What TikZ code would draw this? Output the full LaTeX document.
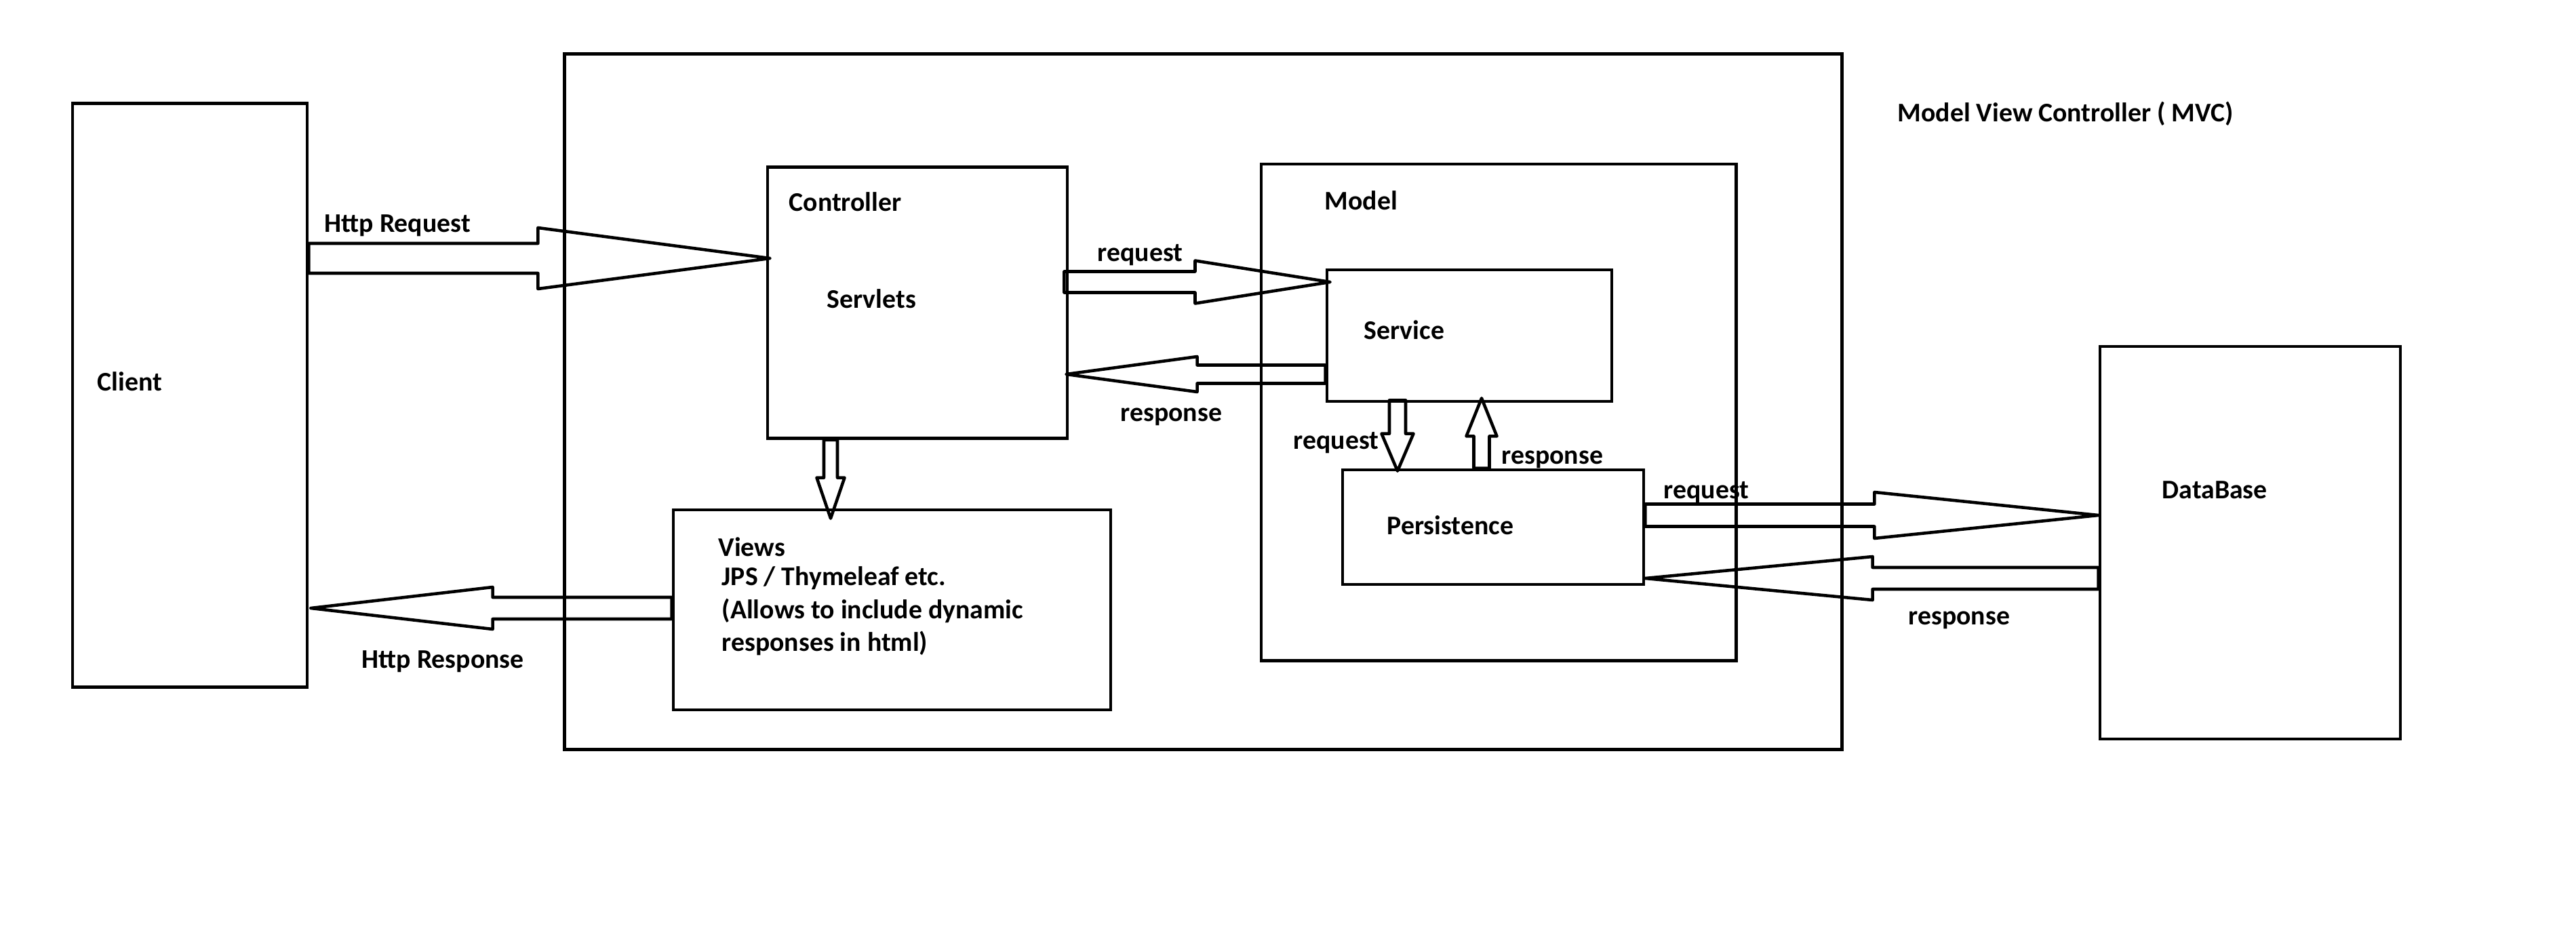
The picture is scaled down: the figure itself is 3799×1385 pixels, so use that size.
\documentclass[tikz,border=0pt]{standalone}
\usepackage{fontspec}
\setmainfont{Carlito}
\usetikzlibrary{calc}

% hollow block arrow: start, tip, shaft half-width, head half-width, head length
\newcommand\blockarrow[5]{%
  \coordinate (ba-base) at ($(#2)!#5!(#1)$);
  \draw[blk] ($(#1)!#3!90:(#2)$) -- ($(ba-base)!#3!90:(#2)$) -- ($(ba-base)!#4!90:(#2)$)
    -- (#2) -- ($(ba-base)!#4!-90:(#2)$) -- ($(ba-base)!#3!-90:(#2)$)
    -- ($(#1)!#3!-90:(#2)$) -- cycle;
}

\begin{document}
\begin{tikzpicture}[x=0.01cm, y=-0.01cm,
  box/.style={draw, rectangle, inner sep=0pt, line width=1.3pt},
  blk/.style={draw, line width=1.3pt, line join=round},
  lbl/.style={inner sep=0pt, anchor=base west, font=\bfseries\fontsize{11.3}{13.6}\selectfont}]

\path[use as bounding box, fill=white] (0,0) rectangle (3799,1385);

% boxes
\node[box, minimum width=3.46cm, minimum height=8.60cm] (client) at (280,583) {};
\node[box, minimum width=18.83cm, minimum height=10.25cm] (mvc) at (1774.5,592.5) {};
\node[box, minimum width=4.42cm, minimum height=4.00cm] (ctrl) at (1353,446.5) {};
\node[box, minimum width=6.45cm, minimum height=2.95cm] (views) at (1315.5,899.5) {};
\node[box, minimum width=7.00cm, minimum height=7.32cm] (model) at (2210,608) {};
\node[box, minimum width=4.20cm, minimum height=1.94cm] (service) at (2167,495) {};
\node[box, minimum width=4.44cm, minimum height=1.69cm] (persist) at (2202,777.5) {};
\node[box, minimum width=4.43cm, minimum height=5.79cm] (db) at (3318.5,800.5) {};

% connector end points
\coordinate (hreqA) at (client.east |- 0,381);
\coordinate (hreqB) at ($(ctrl.west |- 0,381)+(6,0)$);
\coordinate (hresA) at (views.west |- 0,897);
\coordinate (hresB) at ($(client.east |- 0,897)+(3,0)$);
\coordinate (csA) at ($(ctrl.east |- 0,416)+(-7,0)$);
\coordinate (csB) at ($(service.west |- 0,416)+(7,0)$);
\coordinate (scA) at (service.west |- 0,552);
\coordinate (scB) at ($(ctrl.east |- 0,552)+(-4,0)$);
\coordinate (spA) at ($(service.south -| 2061,0)+(0,-4)$);
\coordinate (spB) at ($(persist.north -| 2061,0)+(0,4)$);
\coordinate (psA) at (persist.north -| 2185,0);
\coordinate (psB) at ($(service.south -| 2185,0)+(0,-7)$);
\coordinate (cvA) at (ctrl.south -| 1225,0);
\coordinate (cvB) at ($(views.north -| 1225,0)+(0,15)$);
\coordinate (pdA) at (persist.east |- 0,760);
\coordinate (pdB) at (db.west |- 0,760);
\coordinate (dpA) at (db.west |- 0,853);
\coordinate (dpB) at (persist.east |- 0,853);

% block arrows
\blockarrow{hreqA}{hreqB}{0.22cm}{0.45cm}{3.42cm}
\blockarrow{hresA}{hresB}{0.16cm}{0.31cm}{2.68cm}
\blockarrow{csA}{csB}{0.155cm}{0.315cm}{1.99cm}
\blockarrow{scA}{scB}{0.135cm}{0.26cm}{1.93cm}
\blockarrow{spA}{spB}{0.12cm}{0.235cm}{0.55cm}
\blockarrow{psA}{psB}{0.115cm}{0.225cm}{0.56cm}
\blockarrow{cvA}{cvB}{0.10cm}{0.205cm}{0.60cm}
\blockarrow{pdA}{pdB}{0.165cm}{0.34cm}{3.30cm}
\blockarrow{dpA}{dpB}{0.16cm}{0.32cm}{3.35cm}

% labels
\node[lbl] (tClient) at (143,576) {Client};
\node[lbl] (tHreq) at (478,343) {Http Request};
\node[lbl] (tHres) at (533,985) {Http Response};
\node[lbl] (tCtrl) at (1163,311) {Controller};
\node[lbl] (tServ) at (1219,454) {Servlets};
\node[lbl] (tReq1) at (1618,386) {request};
\node[lbl] (tRes1) at (1652,621) {response};
\node[lbl] (tModel) at (1953,309) {Model};
\node[lbl] (tService) at (2011,500) {Service};
\node[lbl] (tReq2) at (1907,662) {request};
\node[lbl] (tRes2) at (2214,684) {response};
\node[lbl] (tPers) at (2045,788) {Persistence};
\node[lbl] (tViews) at (1059,820) {Views};
\node[lbl] (tViews1) at (1064,863) {JPS / Thymeleaf etc.};
\node[lbl] (tViews2) at (1064,912) {(Allows to include dynamic};
\node[lbl] (tViews3) at (1064,960) {responses in html)};
\node[lbl] (tReq3) at (2453,735) {request};
\node[lbl] (tRes3) at (2814,921) {response};
\node[lbl] (tDB) at (3188,735) {DataBase};
\node[lbl] (tTitle) at (2798,180) {Model View Controller ( MVC)};

\end{tikzpicture}
\end{document}
